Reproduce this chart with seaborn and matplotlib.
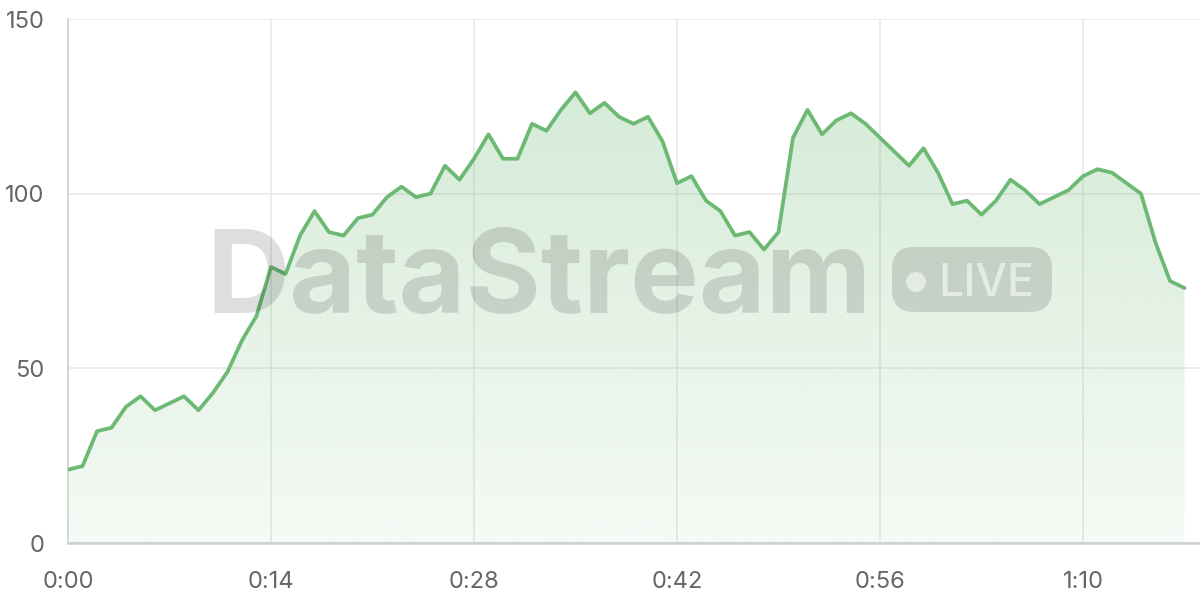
import numpy as np
import pandas as pd
import matplotlib
matplotlib.use("Agg")
import matplotlib.pyplot as plt
from matplotlib.patches import FancyBboxPatch, Circle, Polygon
from matplotlib.transforms import IdentityTransform
import seaborn as sns

# -----------------------------
# Data (one reading per second)
# -----------------------------
seconds = list(range(78))
values = [
    21, 22, 32, 33, 39, 42, 38, 40, 42, 38,
    43, 49, 58, 65, 79, 77, 88, 95, 89, 88,
    93, 94, 99, 102, 99, 100, 108, 104, 110, 117,
    110, 110, 120, 118, 124, 129, 123, 126, 122, 120,
    122, 115, 103, 105, 98, 95, 88, 89, 84, 89,
    116, 124, 117, 121, 123, 120, 116, 112, 108, 113,
    106, 97, 98, 94, 98, 104, 101, 97, 99, 101,
    105, 107, 106, 103, 100, 86, 75, 73,
]
x_ticks = [0, 14, 28, 42, 56, 70]
y_ticks = [0, 50, 100, 150]

LINE = "#6cb973"
GRID = "#e9e9e9"
TEXT = "#666666"

df = pd.DataFrame({"t": seconds, "v": values})

# -----------------------------
# Figure
# -----------------------------
sns.set_theme(style="white")
plt.rcParams["font.family"] = ["Inter", "DejaVu Sans"]

fig = plt.figure(figsize=(12, 6), dpi=100)
ax = fig.add_axes([68 / 1200, 57 / 600, 1132 / 1200, 524 / 600])

ax.set_xlim(0, 1132 / 14.5)
ax.set_ylim(0, 150)

# gradient fill under the line
poly_xy = np.column_stack([[seconds[0]] + seconds + [seconds[-1]],
                           [0] + values + [0]])
poly = Polygon(poly_xy, closed=True, facecolor="none", edgecolor="none")
ax.add_patch(poly)
grad = np.linspace(0.07, 0.32, 256).reshape(-1, 1)
rgba = np.zeros((256, 1, 4))
rgba[..., :3] = matplotlib.colors.to_rgb(LINE)
rgba[..., 3] = grad
img = ax.imshow(rgba, extent=[0, seconds[-1], 0, 150], origin="lower",
                aspect="auto", zorder=1)
img.set_clip_path(poly)

sns.lineplot(data=df, x="t", y="v", ax=ax, color=LINE, linewidth=2.7,
             zorder=4)

# grid and axes
ax.set_xticks(x_ticks)
ax.set_xticklabels([f"{s // 60}:{s % 60:02d}" for s in x_ticks])
ax.set_yticks(y_ticks)
ax.grid(True, color=GRID, linewidth=1.2, zorder=0)
ax.set_axisbelow(True)
ax.tick_params(axis="both", length=11, width=1.2, color=GRID,
               labelsize=17, labelcolor=TEXT)
ax.tick_params(axis="x", pad=9)
ax.tick_params(axis="y", pad=6)
for side in ["top", "right"]:
    ax.spines[side].set_visible(False)
ax.spines["left"].set_color("#d6d6d6")
ax.spines["left"].set_linewidth(1.4)
ax.spines["bottom"].set_color("#cfcfcf")
ax.spines["bottom"].set_linewidth(1.8)
ax.set_xlabel("")
ax.set_ylabel("")

# -----------------------------
# Watermark
# -----------------------------
ident = IdentityTransform()
fig.text(539, 600 - 313, "DataStream", transform=ident, ha="center",
         va="baseline", fontsize=83, fontweight="bold", color="black",
         alpha=0.13, zorder=3)
pill = FancyBboxPatch((892, 288), 160, 65,
                      boxstyle="round,pad=0,rounding_size=22",
                      transform=ident, facecolor="black", edgecolor="none",
                      alpha=0.13, zorder=3)
fig.patches.append(pill)
dot = Circle((916, 600 - 282), 10, transform=ident, facecolor="white",
             edgecolor="none", alpha=0.55, zorder=3)
fig.patches.append(dot)
fig.text(938, 600 - 296, "LIVE", transform=ident, ha="left",
         va="baseline", fontsize=32, fontweight="medium", color="white",
         alpha=0.55, zorder=3)

fig.savefig("out.png", dpi=100)
